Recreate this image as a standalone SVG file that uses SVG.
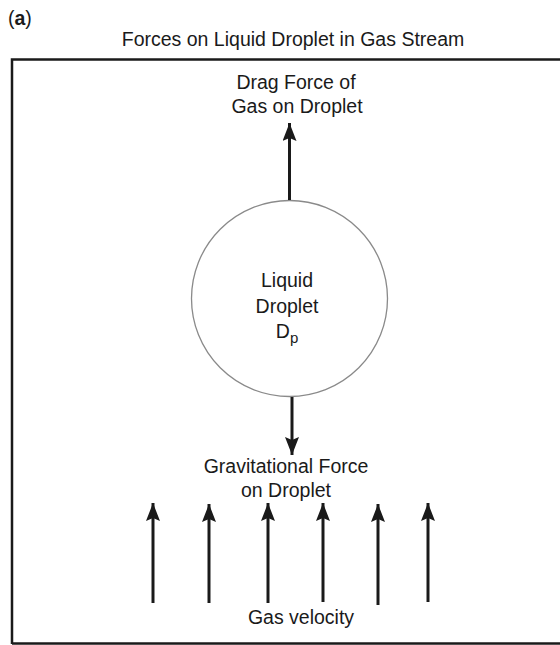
<svg xmlns="http://www.w3.org/2000/svg" width="560" height="645" viewBox="0 0 560 645">
  <defs>
    <marker id="head" viewBox="0 0 18 14" refX="18" refY="7" markerWidth="18" markerHeight="14" markerUnits="userSpaceOnUse" orient="auto">
      <path d="M0,0 L18,7 L0,14 L3,7 z" fill="#1a1a1a"/>
    </marker>
    <style>
      text { font-family: "Liberation Sans", Arial, sans-serif; font-size: 19.5px; fill: #1a1a1a; text-anchor: middle; }
      .arrow { stroke: #1a1a1a; stroke-width: 3; fill: none; marker-end: url(#head); }
    </style>
  </defs>
  <rect width="560" height="645" fill="#ffffff"/>
  <g id="label-a">
    <text x="8" y="25" style="text-anchor:start">(<tspan font-weight="bold">a</tspan>)</text>
  </g>
  <g id="title">
    <text x="293" y="46">Forces on Liquid Droplet in Gas Stream</text>
  </g>
  <g id="frame">
    <path d="M12,644 L12,59.5 L562,59.5" fill="none" stroke="#1a1a1a" stroke-width="2.5"/>
    <path d="M12,643.5 L562,643.5" fill="none" stroke="#1a1a1a" stroke-width="2.5"/>
  </g>
  <g id="droplet">
    <circle cx="289.5" cy="298.5" r="98" fill="#ffffff" stroke="#8a8a8a" stroke-width="1.3"/>
    <text x="287" y="287">Liquid</text>
    <text x="287" y="313">Droplet</text>
    <text x="287" y="338">D<tspan font-size="15" dy="5">p</tspan></text>
  </g>
  <g id="drag-label">
    <text x="296" y="89">Drag Force of</text>
    <text x="297" y="113">Gas on Droplet</text>
  </g>
  <g id="gravity-label">
    <text x="286" y="473">Gravitational Force</text>
    <text x="286" y="497">on Droplet</text>
  </g>
  <g id="gas-label">
    <text x="301" y="624">Gas velocity</text>
  </g>
  <g id="connectors">
    <line class="arrow" x1="289.5" y1="200" x2="289.5" y2="123"/>
    <line class="arrow" x1="292" y1="397" x2="292" y2="455"/>
    <line class="arrow" x1="153" y1="603" x2="153" y2="503"/>
    <line class="arrow" x1="209" y1="603" x2="209" y2="504"/>
    <line class="arrow" x1="268" y1="603" x2="268" y2="503"/>
    <line class="arrow" x1="323" y1="602" x2="323" y2="503"/>
    <line class="arrow" x1="378" y1="605" x2="378" y2="504"/>
    <line class="arrow" x1="428" y1="602" x2="428" y2="503"/>
  </g>
</svg>
